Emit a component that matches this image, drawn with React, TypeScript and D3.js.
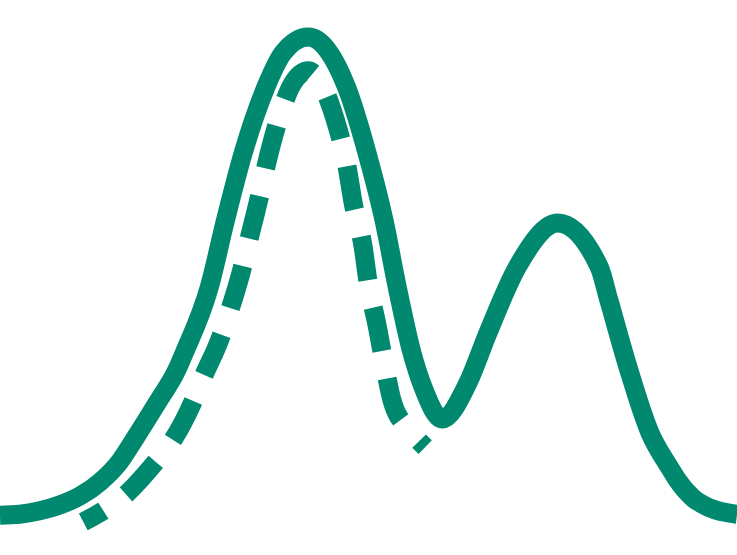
import React from 'react'
import * as d3 from 'd3'

// mixture curve (solid)
const mixX = [0, 2.7, 5.4, 8.1, 10.9, 13.6, 16.3, 18.1, 21.3, 24.0, 25.0, 28.4, 30.6, 33.0, 36.1, 38.4, 41.8, 47.0, 49.8, 52.1, 53.9, 55.9, 57.4, 60.0, 63.5, 66.2, 70.2, 75.7, 81.3, 82.6, 85.2, 88.2, 90.8, 91.9, 94.0, 96.3, 100]
const mixY = [1.0, 1.2, 1.9, 3.1, 5.0, 7.9, 12.2, 16.4, 24.2, 31.1, 34.6, 48.2, 62.1, 76.0, 89.7, 96.7, 100, 89.7, 76.0, 62.1, 48.2, 34.6, 27.5, 20.9, 28.4, 38.7, 52.4, 61.5, 52.4, 45.6, 31.7, 18.0, 11.0, 8.3, 4.6, 2.5, 1.2]

// first component (dashed)
const compX = [11.3, 14.0, 17.0, 21.0, 23.3, 26.1, 27.5, 29.9, 31.1, 32.8, 33.7, 35.1, 36.2, 37.9, 39.6, 41.8, 43.8, 45.5, 47.1, 47.9, 49.3, 49.9, 51.2, 52.0, 53.3, 55.6, 57.7]
const compY = [-0.4, 1.9, 5.2, 11.8, 16.2, 24.2, 29.4, 37.7, 43.1, 51.8, 57.6, 66.3, 73.9, 83.4, 90.1, 93.0, 89.7, 82.8, 73.1, 65.8, 56.3, 49.7, 40.0, 33.5, 24.2, 18.6, 15.1]

const width = 737
const height = 555
const color = '#00896e'

const App: React.FC = () => {
  const x = d3.scaleLinear().domain([0, 100]).range([0, width])
  const y = d3.scaleLinear().domain([0, 100]).range([520, 37])

  const line = d3.line<[number, number]>()
    .x(d => x(d[0]))
    .y(d => y(d[1]))
    .curve(d3.curveMonotoneX)

  const mix = mixX.map((v, i) => [v, mixY[i]] as [number, number])
  const comp = compX.map((v, i) => [v, compY[i]] as [number, number])

  return (
    <svg
      width={width}
      height={height}
      style={{ position: 'absolute', left: 0, top: 0, background: '#fff' }}
    >
      <path d={line(comp) || ''} fill="none" stroke={color} strokeWidth={19}
        strokeDasharray="44 28" strokeDashoffset={21} />
      <path d={line(mix) || ''} fill="none" stroke={color} strokeWidth={19} />
    </svg>
  )
}

export default App
